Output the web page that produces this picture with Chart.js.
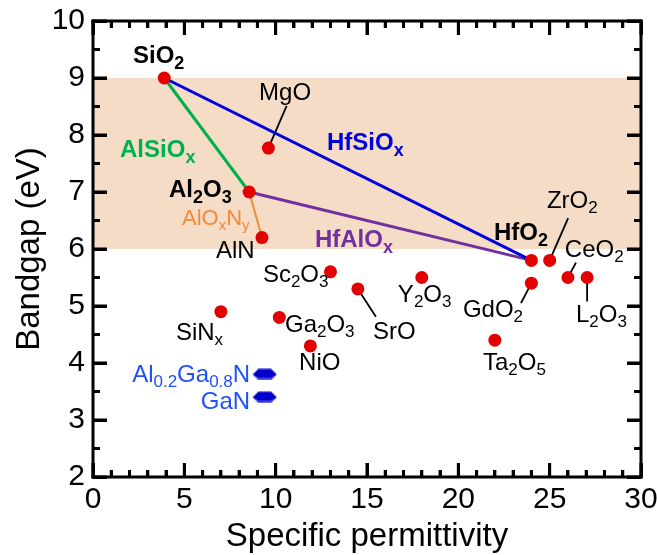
<!DOCTYPE html>
<html lang="en">
<head>
<meta charset="UTF-8">
<title>Bandgap vs specific permittivity</title>
<script src="https://cdn.jsdelivr.net/npm/chart.js"></script>
<style>
    html, body { margin: 0; padding: 0; background: #fff; }
    #wrap { width: 657px; height: 555px; }
</style>
</head>
<body>
<div id="wrap"><canvas id="myChart" width="657" height="555"></canvas></div>
<script>
// dielectrics: name (with _{} subscripts), permittivity, bandgap (eV)
const materials = ['SiO_{2}', 'MgO', 'Al_{2}O_{3}', 'AlN', 'HfO_{2}', 'ZrO_{2}', 'CeO_{2}', 'L_{2}O_{3}',
    'GdO_{2}', 'Ta_{2}O_{5}', 'Y_{2}O_{3}', 'SrO', 'Sc_{2}O_{3}', 'SiN_{x}', 'Ga_{2}O_{3}', 'NiO'];
const permittivity = [3.9, 9.6, 8.55, 9.25, 24, 25, 26, 27.05, 24, 22, 18, 14.5, 13, 7, 10.2, 11.9];
const bandgap = [9, 7.77, 7, 6.2, 5.8, 5.8, 5.5, 5.5, 5.4, 4.4, 5.5, 5.3, 5.6, 4.9, 4.8, 4.3];
const boldMaterials = ['SiO_{2}', 'Al_{2}O_{3}', 'HfO_{2}'];

// semiconductors
const nitrides = ['Al_{0.2}Ga_{0.8}N', 'GaN'];
const nitrideEps = [9.4, 9.4];
const nitrideGap = [3.8, 3.4];

// alloy tie lines between end members
const alloys = ['HfSiO_{x}', 'AlSiO_{x}', 'HfAlO_{x}', 'AlO_{x}N_{y}'];
const alloyFrom = ['SiO_{2}', 'SiO_{2}', 'Al_{2}O_{3}', 'Al_{2}O_{3}'];
const alloyTo = ['HfO_{2}', 'Al_{2}O_{3}', 'HfO_{2}', 'AlN'];
const alloyColors = ['#0000dd', '#00b050', '#7030a0', '#f08a3c'];

const xTicks = [0, 5, 10, 15, 20, 25, 30];
const yTicks = [2, 3, 4, 5, 6, 7, 8, 9, 10];
const targetBand = [6, 9];

// label anchors in data units (left end, baseline)
const labelX = [2.19, 9.09, 4.16, 6.73, 21.95, 24.85, 25.83, 26.44, 20.25, 21.35, 16.69, 15.33, 9.30, 4.54, 10.51, 11.28];
const labelY = [9.27, 8.61, 6.91, 5.84, 6.16, 6.72, 5.86, 4.72, 4.81, 3.88, 5.07, 4.42, 5.42, 4.40, 4.55, 3.88];
const nitrideLabelX = [8.6, 8.6]; // right end
const nitrideLabelY = [3.67, 3.19];
const alloyLabelX = [12.81, 1.48, 12.15, 4.87];
const alloyLabelY = [7.74, 7.62, 6.04, 6.42];

// leader lines: from the dot to these ends
const leaderFor = ['MgO', 'SrO', 'GdO_{2}', 'ZrO_{2}', 'CeO_{2}', 'L_{2}O_{3}'];
const leaderEndX = [10.6, 15.49, 23.43, 26.01, 26.44, 27.05];
const leaderEndY = [8.51, 4.81, 5.05, 6.54, 5.76, 5.08];

// minor tick positions: every unit on x, every half unit on y
const xMinor = [];
for (let v = xTicks[0]; v <= xTicks[xTicks.length - 1]; v += 1) xMinor.push(v);
const yMinor = [];
for (let v = yTicks[0]; v <= yTicks[yTicks.length - 1]; v += 0.5) yMinor.push(v);

const FAM = '"Liberation Sans", Arial, Helvetica, sans-serif';
Chart.defaults.font.family = FAM;

function pt(name) {
    const i = materials.indexOf(name);
    return { x: permittivity[i], y: bandgap[i] };
}

function hexMark() {
    const c = document.createElement('canvas');
    c.width = 25; c.height = 12;
    const g = c.getContext('2d');
    g.beginPath();
    g.moveTo(0.5, 6); g.lineTo(6, 0.5); g.lineTo(19, 0.5);
    g.lineTo(24.5, 6); g.lineTo(19, 11.5); g.lineTo(6, 11.5);
    g.closePath();
    g.fillStyle = '#0000c8';
    g.fill();
    g.strokeStyle = '#7070ff';
    g.lineWidth = 1;
    g.beginPath();
    g.moveTo(2.5, 8); g.lineTo(6.5, 10); g.lineTo(18.5, 10); g.lineTo(22.5, 8);
    g.stroke();
    return c;
}

// text with _{..} subscripts
function drawRich(ctx, str, x, y, o) {
    const parts = [];
    str.replace(/([^_]+)|_\{([^}]*)\}/g, (m, a, b) => {
        parts.push(a !== undefined ? [a, false] : [b, true]);
        return m;
    });
    const w = o.bold ? 'bold ' : '';
    const fonts = parts.map(p => w + (p[1] ? o.sub : o.size) + 'px ' + FAM);
    let total = 0;
    parts.forEach((p, i) => { ctx.font = fonts[i]; total += ctx.measureText(p[0]).width; });
    let cx = o.align === 'right' ? x - total : x;
    ctx.fillStyle = o.color;
    ctx.textAlign = 'left';
    ctx.textBaseline = 'alphabetic';
    parts.forEach((p, i) => {
        ctx.font = fonts[i];
        ctx.fillText(p[0], cx, p[1] ? y + o.drop : y);
        cx += ctx.measureText(p[0]).width;
    });
}

// inward tick marks drawn by the library's own grid (negative tick length)
const inwardGrid = len => ({
    display: true, drawOnChartArea: false, drawTicks: true,
    tickLength: -len, tickWidth: 3, tickColor: '#000', z: 1
});

// label-less axis that only carries tick marks
function tickAxis(axis, position, values, len, min, max) {
    const horiz = axis === 'x';
    return {
        type: 'linear', axis, position, min, max, weight: 0,
        afterBuildTicks: s => { s.ticks = values.map(v => ({ value: v })); },
        afterFit: s => {
            if (horiz) { s.height = 0; s.paddingLeft = 0; s.paddingRight = 0; }
            else { s.width = 0; s.paddingTop = 0; s.paddingBottom = 0; }
        },
        ticks: { display: false, autoSkip: false },
        border: { display: false },
        grid: inwardGrid(len)
    };
}

const decor = {
    id: 'decor',
    beforeDatasetsDraw(chart) {
        const { ctx, chartArea: a, scales: { y } } = chart;
        ctx.save();
        ctx.fillStyle = '#f5dcc6';
        const t = y.getPixelForValue(targetBand[1]);
        const b = y.getPixelForValue(targetBand[0]);
        ctx.fillRect(a.left, t, a.right - a.left, b - t);
        ctx.restore();
    },
    afterDatasetsDraw(chart) {
        const { ctx, scales: { x, y } } = chart;
        ctx.save();
        materials.forEach((m, i) => {
            const bold = boldMaterials.includes(m);
            drawRich(ctx, m, x.getPixelForValue(labelX[i]), y.getPixelForValue(labelY[i]),
                bold ? { size: 24, sub: 18, drop: 6, bold: true, color: '#000' }
                     : { size: 24, sub: 17, drop: 5, bold: false, color: '#000' });
        });
        nitrides.forEach((m, i) => {
            drawRich(ctx, m, x.getPixelForValue(nitrideLabelX[i]), y.getPixelForValue(nitrideLabelY[i]),
                { size: 24, sub: 17, drop: 5, bold: false, color: '#1f4fff', align: 'right' });
        });
        alloys.forEach((m, i) => {
            const orange = i === 3;
            drawRich(ctx, m, x.getPixelForValue(alloyLabelX[i]), y.getPixelForValue(alloyLabelY[i]),
                orange ? { size: 22, sub: 15, drop: 5, bold: false, color: alloyColors[i] }
                       : { size: 24, sub: 18, drop: 6, bold: true, color: alloyColors[i] });
        });
        ctx.restore();
    },
    afterDraw(chart) {
        const { ctx, chartArea: a, scales: { x, y } } = chart;
        ctx.save();
        ctx.fillStyle = '#000';
        // same inward ticks again, as filled bars
        xMinor.forEach(v => {
            const px = x.getPixelForValue(v);
            const len = xTicks.indexOf(v) >= 0 ? 14 : 7;
            ctx.fillRect(px - 1.5, a.bottom - len, 3, len);
            ctx.fillRect(px - 1.5, a.top, 3, len);
        });
        yMinor.forEach(v => {
            const py = y.getPixelForValue(v);
            const len = yTicks.indexOf(v) >= 0 ? 14 : 7;
            ctx.fillRect(a.left, py - 1.5, len, 3);
            ctx.fillRect(a.right - len, py - 1.5, len, 3);
        });
        // frame
        ctx.fillRect(a.left - 1.5, a.top - 1.5, a.right - a.left + 3, 3);
        ctx.fillRect(a.left - 1.5, a.bottom - 1.5, a.right - a.left + 3, 3);
        ctx.fillRect(a.left - 1.5, a.top - 1.5, 3, a.bottom - a.top + 3);
        ctx.fillRect(a.right - 1.5, a.top - 1.5, 3, a.bottom - a.top + 3);
        ctx.restore();
    }
};

const datasets = [
    {
        data: permittivity.map((v, i) => ({ x: v, y: bandgap[i] })),
        backgroundColor: '#e30000',
        borderWidth: 0,
        pointRadius: 6.5,
        showLine: false
    },
    {
        data: nitrideEps.map((v, i) => ({ x: v, y: nitrideGap[i] })),
        pointStyle: hexMark(),
        pointRadius: 6,
        showLine: false
    }
];
alloys.forEach((name, i) => {
    datasets.push({
        data: [pt(alloyFrom[i]), pt(alloyTo[i])],
        showLine: true,
        borderColor: alloyColors[i],
        borderWidth: i === 3 ? 2 : 3,
        pointRadius: 0
    });
});
leaderFor.forEach((name, i) => {
    datasets.push({
        data: [pt(name), { x: leaderEndX[i], y: leaderEndY[i] }],
        showLine: true,
        borderColor: '#000',
        borderWidth: 1.8,
        pointRadius: 0
    });
});
datasets.forEach(d => { d.xAxisID = 'x'; d.yAxisID = 'y'; });

const xMin = xTicks[0], xMax = xTicks[xTicks.length - 1];
const yMin = yTicks[0], yMax = yTicks[yTicks.length - 1];

new Chart(document.getElementById('myChart'), {
    type: 'scatter',
    data: { datasets },
    options: {
        responsive: false,
        devicePixelRatio: 1,
        animation: false,
        events: [],
        layout: { padding: { left: 0, right: 16, top: 21, bottom: 0 } },
        plugins: { legend: { display: false }, tooltip: { enabled: false } },
        scales: {
            x: {
                type: 'linear', axis: 'x', position: 'bottom', weight: 1,
                min: xMin, max: xMax,
                afterBuildTicks: s => { s.ticks = xTicks.map(v => ({ value: v })); },
                afterFit: s => { s.height = 78; s.paddingLeft = 0; s.paddingRight = 0; },
                grid: inwardGrid(14),
                border: { display: false },
                ticks: { color: '#000', font: { size: 30 }, padding: 19, maxRotation: 0, autoSkip: false },
                title: {
                    display: true, text: 'Specific permittivity', color: '#000',
                    font: { size: 33, lineHeight: 1.1 }, padding: { top: 0, bottom: 0 }
                }
            },
            y: {
                type: 'linear', axis: 'y', position: 'left', weight: 1,
                min: yMin, max: yMax,
                afterBuildTicks: s => { s.ticks = yTicks.map(v => ({ value: v })); },
                afterFit: s => { s.width = 93; s.paddingTop = 0; s.paddingBottom = 0; },
                grid: inwardGrid(14),
                border: { display: false },
                ticks: { color: '#000', font: { size: 30 }, padding: 22, autoSkip: false },
                title: {
                    display: true, text: 'Bandgap (eV)', color: '#000',
                    font: { size: 33, lineHeight: 1.2 }, padding: { top: 10, bottom: 0 }
                }
            },
            xMinorBottom: tickAxis('x', 'bottom', xMinor, 7, xMin, xMax),
            xMajorTop: tickAxis('x', 'top', xTicks, 14, xMin, xMax),
            xMinorTop: tickAxis('x', 'top', xMinor, 7, xMin, xMax),
            yMinorLeft: tickAxis('y', 'left', yMinor, 7, yMin, yMax),
            yMajorRight: tickAxis('y', 'right', yTicks, 14, yMin, yMax),
            yMinorRight: tickAxis('y', 'right', yMinor, 7, yMin, yMax)
        }
    },
    plugins: [decor]
});
</script>
</body>
</html>
